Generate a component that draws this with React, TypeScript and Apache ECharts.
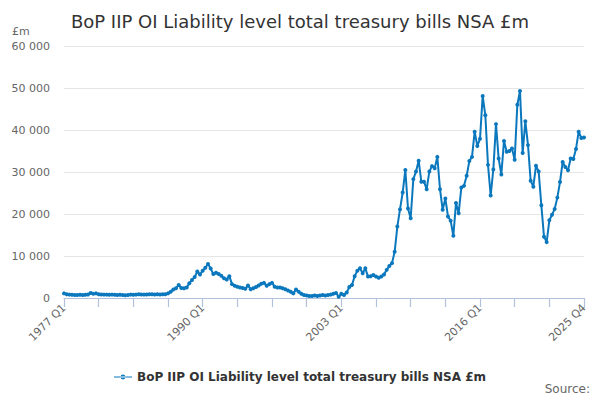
import React, { useEffect, useRef } from "react";
import * as echarts from "echarts";

const startYear = 1977;
const endYear = 2025;
const categories: string[] = [];
for (let y = startYear; y <= endYear; y++) {
  for (let q = 1; q <= 4; q++) categories.push(`${y} Q${q}`);
}

const values1977to1989 = [
  1100, 900, 800, 750, 700, 700, 750, 700, 750, 850, 1200, 1000,
  1100, 900, 850, 800, 800, 750, 800, 750, 700, 750, 700, 650,
  700, 800, 750, 800, 900, 850, 800, 850, 900, 900, 850, 900,
  850, 900, 900, 1100, 1500, 2000, 2300, 3100, 2400, 2300, 2500, 3500,
  4300, 5000, 6300, 5600,
];
const values1990to2002 = [
  6500, 7200, 8100, 7000, 5700, 6000, 5700, 5300, 4700, 4400, 5200, 3300,
  2900, 2700, 2500, 2400, 2200, 3000, 2100, 2300, 2600, 3000, 3400, 3600,
  2900, 3300, 3600, 2700, 2500, 2500, 2300, 2100, 1800, 1500, 1100, 2000,
  1500, 1000, 700, 600, 500, 500, 600, 500, 600, 700, 600, 700,
  800, 1000, 1200, 300,
];
const values2003to2015 = [
  1000, 700, 1300, 2600, 3100, 5200, 6500, 7100, 5900, 7100, 5100, 5200,
  5500, 5100, 4800, 5100, 5600, 6700, 7600, 8300, 11000, 17000, 21100, 25100,
  30500, 21300, 19000, 28300, 30100, 32700, 27700, 27700, 25900, 30100, 31400, 30900,
  33600, 25900, 21000, 23700, 19400, 18400, 14800, 22600, 20200, 26300, 26700, 29100,
  32600, 33600, 39600, 36200,
];
const values2016to2025 = [
  37900, 48100, 43500, 31700, 24400, 30600, 41400, 33200, 29400, 37400, 34800, 35000,
  35600, 32900, 46000, 49300, 34500, 42100, 36400, 27900, 26500, 31500, 30100, 22100,
  14600, 13300, 18500, 19800, 21200, 23900, 27600, 32400, 31200, 30400, 33200, 33100,
  35500, 39600, 38100, 38200,
];
const seriesValues = [
  ...values1977to1989,
  ...values1990to2002,
  ...values2003to2015,
  ...values2016to2025,
];

const seriesName = "BoP IIP OI Liability level total treasury bills NSA £m";
const titleText = "BoP IIP OI Liability level total treasury bills NSA £m";
const lineColor = "#0b78be";
const axisColor = "#b4c1dc";
const font = "DejaVu Sans";
const tickStep = 13;

const fmt = (v: number) =>
  String(v).replace(/\B(?=(\d{3})+(?!\d))/g, " ");

export default function App() {
  const ref = useRef<HTMLDivElement>(null);
  useEffect(() => {
    if (!ref.current) return;
    const chart = echarts.init(ref.current, undefined, { renderer: "svg" });
    const last = categories.length - 1;
    chart.setOption({
      animation: false,
      backgroundColor: "#ffffff",
      textStyle: { fontFamily: font },
      title: {
        text: titleText,
        left: "center",
        top: 7,
        textStyle: { fontFamily: font, fontSize: 18, fontWeight: "normal", color: "#333333" },
      },
      graphic: [
        {
          type: "text",
          left: 12,
          top: 26,
          style: { text: "£m", fontFamily: font, fontSize: 11, fill: "#666666" },
        },
        {
          type: "text",
          right: 10,
          top: 383,
          style: { text: "Source:", fontFamily: font, fontSize: 12, fill: "#666666" },
        },
      ],
      legend: {
        top: 366,
        left: "center",
        itemWidth: 18,
        itemHeight: 6,
        icon: "path://M0,2.5 L18,2.5 L18,3.5 L0,3.5 Z M6.5,3 A2.5,2.5 0 1,0 11.5,3 A2.5,2.5 0 1,0 6.5,3 Z",
        textStyle: { fontFamily: font, fontSize: 12, fontWeight: "bold", color: "#333333" },
        data: [seriesName],
      },
      grid: { left: 64, right: 16, top: 46, bottom: 102, containLabel: false },
      xAxis: {
        type: "category",
        data: categories,
        boundaryGap: false,
        axisLine: { show: true, onZero: false, lineStyle: { color: axisColor, width: 1 } },
        axisTick: {
          show: true,
          length: 9,
          interval: tickStep - 1,
          lineStyle: { color: axisColor, width: 1.2 },
        },
        axisLabel: {
          show: true,
          rotate: 45,
          interval: (index: number) => index % 52 === 0 || index === last,
          color: "#666666",
          fontFamily: font,
          fontSize: 11,
          margin: 8,
        },
        splitLine: { show: false },
      },
      yAxis: {
        type: "value",
        min: 0,
        max: 60000,
        interval: 10000,
        axisLine: { show: false },
        axisTick: { show: false },
        axisLabel: {
          color: "#666666",
          fontFamily: font,
          fontSize: 11,
          margin: 14,
          formatter: (v: number) => fmt(v),
        },
        splitLine: { lineStyle: { color: "#e6e6e6" } },
      },
      series: [
        {
          name: seriesName,
          type: "line",
          data: seriesValues,
          color: lineColor,
          symbol: "circle",
          symbolSize: 4,
          showAllSymbol: true,
          z: 3,
          lineStyle: { width: 2, color: lineColor },
          itemStyle: { color: lineColor },
        },
      ],
    });
    return () => chart.dispose();
  }, []);
  return (
    <div
      ref={ref}
      style={{ position: "fixed", left: 0, top: 0, width: 600, height: 400 }}
    />
  );
}
